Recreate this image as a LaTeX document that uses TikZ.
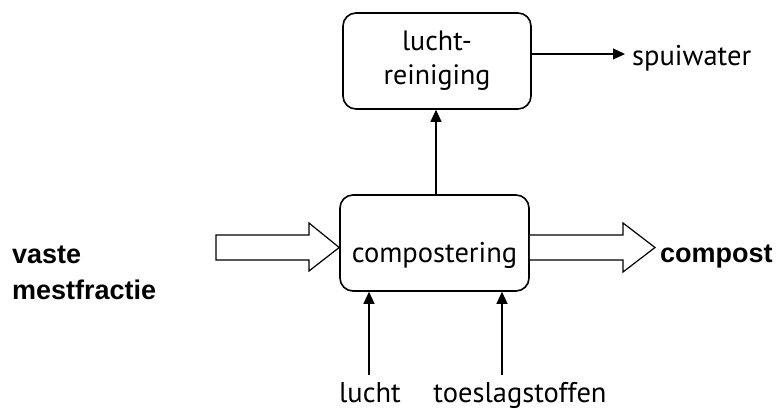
\documentclass[tikz,border=0pt]{standalone}
\usepackage{fontspec}
\setmainfont{PT Sans}
\newfontfamily\boldlabel{Liberation Sans}[BoldFont={Liberation Sans Bold}]
\usetikzlibrary{calc,arrows.meta}
\begin{document}
\begin{tikzpicture}[x=1pt,y=-1pt,
  procbox/.style={draw, line width=1.6pt, rounded corners=13pt, align=center, inner sep=0pt},
  arr/.style={-{Triangle[length=12pt,width=11pt]}, line width=1.2pt},
  hollow/.style={draw, line width=1.2pt, fill=white, line join=miter},
  txt/.style={font=\fontsize{28.5}{35}\selectfont, inner sep=0pt},
  btxt/.style={font=\boldlabel\bfseries\fontsize{27}{36}\selectfont, inner sep=0pt, align=left}]
\useasboundingbox (0,0) rectangle (780,408);
% boxes
\node[procbox, minimum width=188pt, minimum height=96pt, txt, font=\fontsize{28}{34}\selectfont] (lr) at (437,61) {lucht-\\reiniging};
\node[procbox, minimum width=189pt, minimum height=96pt] (comp) at (434.5,243) {};
\node[txt, anchor=base] (ct) at ($(comp.center)+(0,19)$) {compostering};
% labels
\node[txt, anchor=base west] (sp) at (632,65) {spuiwater};
\node[txt, anchor=base] (lu) at (370,402) {lucht};
\node[txt, anchor=base] (ts) at (520,402) {toeslagstoffen};
\node[btxt, anchor=base west] (vm) at (12,299) {vaste\\mestfractie};
\node[btxt, anchor=base west] (cp) at (660,262) {compost};
% thin arrows
\coordinate (spin) at (625,54);
\draw[arr] (lr.east |- spin) -- (spin);
\draw[arr] (comp.north -| 436,0) -- (lr.south -| 436,0);
\coordinate (la) at (369,375);
\coordinate (ta) at (502,375);
\draw[arr] (la) -- (la |- comp.south);
\draw[arr] (ta) -- (ta |- comp.south);
% hollow arrows
\path[hollow] (216,235) -- (309,235) -- (309,223) -- (comp.west |- 0,247.5) -- (309,271) -- (309,260) -- (216,260) -- cycle;
\path[hollow] (comp.east |- 0,235) -- (623,235) -- (623,223) -- (655,247.5) -- (623,272) -- (623,260) -- (comp.east |- 0,260);
\end{tikzpicture}
\end{document}
